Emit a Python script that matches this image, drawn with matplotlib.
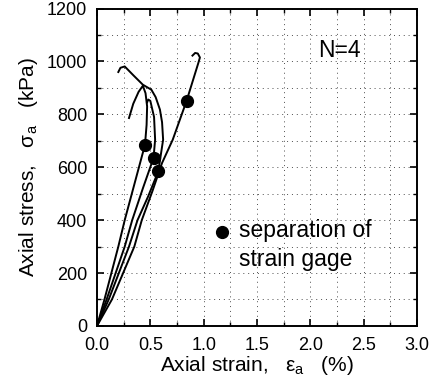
import numpy as np
import matplotlib.pyplot as plt
from matplotlib.ticker import MultipleLocator

plt.rcParams['font.family'] = ['Liberation Sans', 'DejaVu Sans']
plt.rcParams['mathtext.fontset'] = 'custom'
plt.rcParams['mathtext.rm'] = 'Liberation Sans'

# four loading curves (strain %, stress kPa)
c1_x = [0.0, 0.07, 0.20, 0.26, 0.36, 0.45, 0.465, 0.47, 0.455, 0.43, 0.39, 0.34, 0.30]
c1_y = [0, 100, 300, 400, 550, 685, 760, 830, 880, 908, 885, 840, 786]

c2_x = [0.0, 0.09, 0.26, 0.33, 0.43, 0.53, 0.545, 0.535, 0.50, 0.48, 0.47]
c2_y = [0, 100, 300, 400, 520, 635, 704, 790, 851, 856, 845]

c3_x = [0.0, 0.11, 0.30, 0.38, 0.48, 0.575, 0.62, 0.61, 0.59, 0.55, 0.51, 0.43, 0.34, 0.26, 0.22, 0.20]
c3_y = [0, 100, 300, 400, 490, 585, 704, 770, 818, 865, 893, 912, 948, 981, 976, 960]

c4_x = [0.0, 0.14, 0.35, 0.42, 0.52, 0.61, 0.71, 0.84, 0.95, 0.965, 0.945, 0.92, 0.895]
c4_y = [0, 100, 300, 400, 510, 616, 704, 851, 994, 1015, 1030, 1032, 1022]

# strain gage separation points
sep_x = [0.45, 0.53, 0.575, 0.84]
sep_y = [685, 635, 585, 851]

fig = plt.figure(figsize=(4.33, 3.88), dpi=100)
ax = fig.add_axes([0.224, 0.160, 0.739, 0.818])

for cx, cy in [(c1_x, c1_y), (c2_x, c2_y), (c3_x, c3_y), (c4_x, c4_y)]:
    ax.plot(cx, cy, color='black', lw=1.4, solid_joinstyle='round')
ax.plot(sep_x, sep_y, 'o', color='black', ms=8.5, zorder=5)

# legend-like annotation
ax.plot([1.17], [355], 'o', color='black', ms=8.5, clip_on=False)
ax.text(1.33, 337, 'separation of', fontsize=16.5, va='baseline', ha='left')
ax.text(1.33, 226, 'strain gage', fontsize=16.5, va='baseline', ha='left')
ax.text(2.07, 1015, 'N=4', fontsize=16.5, va='baseline', ha='left')

ax.set_xlim(0, 3.0)
ax.set_ylim(0, 1200)
ax.xaxis.set_major_locator(MultipleLocator(0.5))
ax.xaxis.set_minor_locator(MultipleLocator(0.25))
ax.yaxis.set_major_locator(MultipleLocator(200))
ax.yaxis.set_minor_locator(MultipleLocator(100))
ax.xaxis.set_major_formatter(lambda v, p: f'{v:.1f}')
ax.tick_params(which='both', direction='in', top=True, right=True, labelsize=13)
ax.tick_params(which='major', length=5, width=1.2)
ax.tick_params(which='minor', length=3, width=1.0)
ax.tick_params(axis='x', which='major', pad=8)
ax.tick_params(axis='y', which='major', pad=7)
ax.grid(True, which='both', linestyle=(0, (1, 4)), color='0.3', lw=0.7)
for s in ax.spines.values():
    s.set_linewidth(1.4)

ax.set_xlabel('Axial strain,   ε$_\\mathregular{a}$   (%)', fontsize=15, labelpad=0)
ax.set_ylabel('Axial stress,   σ$_\\mathregular{a}$   (kPa)', fontsize=15, labelpad=5)

fig.savefig('out.png', dpi=100)
